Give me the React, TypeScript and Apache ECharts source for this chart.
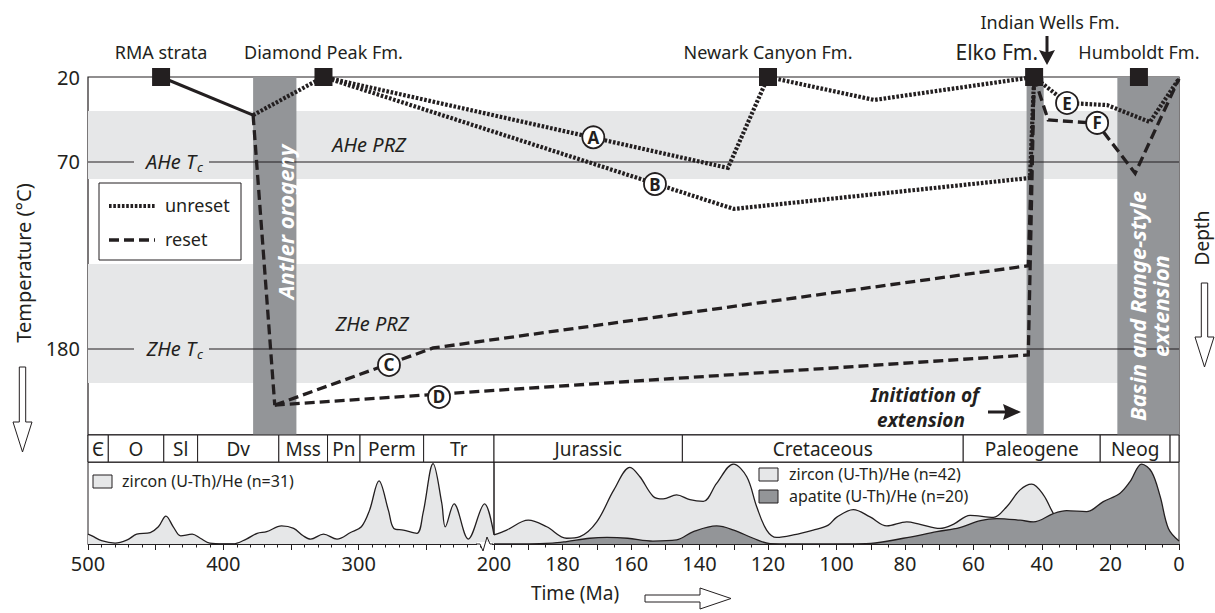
import React, { useEffect, useRef } from 'react';
import * as echarts from 'echarts';

// ---------------- data ----------------
const tempTickLabels = [20, 70, 180];
const closureTemps = [70, 180];
const closureNames = ['AHe', 'ZHe'];
const przBands: [number, number][] = [[40, 80], [130, 200]];
const przNames = ['AHe PRZ', 'ZHe PRZ'];
const eventBands: [number, number][] = [[378, 346], [44.5, 39.5], [18, 0]];

const periodNames = ['Є', 'O', 'Sl', 'Dv', 'Mss', 'Pn', 'Perm', 'Tr', 'Jurassic', 'Cretaceous', 'Paleogene', 'Neog', ''];
const periodBounds = [500, 485, 444, 419, 359, 323, 299, 252, 200, 145, 63, 23, 2.6, 0];

const unitNames = ['RMA strata', 'Diamond Peak Fm.', 'Newark Canyon Fm.', 'Elko Fm.', 'Humboldt Fm.'];
const unitAges = [446, 326, 120, 42.3, 11.7];
const unitTemps = [20, 20, 20, 20, 20];

const markerNames = ['A', 'B', 'C', 'D', 'E', 'F'];
const markerAges = [171, 153, 277.6, 240.6, 32.7, 23.9];
const markerTemps = [55.5, 83, 189.4, 208.2, 35.3, 47];

// time-temperature paths [Ma, °C]
const solidPath = [[446, 20], [378, 42.4]];
const unresetLead = [[378, 42.4], [326, 20]];
const pathA = [[326, 20], [131.7, 73.5], [120, 20], [89, 33.5], [42.3, 20]];
const pathB = [[326, 20], [130, 97.6], [43.5, 79.4], [42.3, 20]];
const pathE = [[42.3, 20], [32.7, 35.3], [21, 36.5], [8.5, 46.5], [0, 21]];
const resetLead = [[378, 42.4], [362, 213]];
const pathC = [[362, 213], [245, 179.4], [44, 131], [42.3, 20]];
const pathD = [[362, 213], [44, 183.5], [42.3, 20]];
const pathF = [[42.3, 20], [38.2, 45.3], [24, 47.2], [12.8, 76.6], [0, 21]];

// age distributions [Ma, relative probability]
const zirconOld = [
  [500, 12], [497, 10], [490, 4], [480, 1], [471, 5], [464, 12], [454, 14], [448, 21], [442.4, 34], [437, 21],
  [431.5, 10], [423, 12], [417, 7], [410, 1], [400, 0], [393, 0], [383, 6], [375, 13], [368, 15], [357, 22],
  [348, 19], [341, 10], [335.5, 6], [326, 12], [316, 6], [306, 14], [298, 21], [292, 41], [285, 77], [278, 41],
  [274, 19], [267, 17], [257, 13], [252.4, 38], [245, 98], [238.6, 50], [236, 21], [229.5, 49], [219, 6],
  [207, 49], [200, 11],
];
const zirconYoung = [
  [200, 11], [196.3, 17], [190, 29], [184.6, 21], [178.8, 7], [174.9, 9], [170, 27], [165, 66], [160.3, 93.5],
  [157.4, 82], [153.5, 58], [150.6, 55], [146.7, 60], [142.8, 54], [138.9, 52], [135, 74], [130.1, 97.5],
  [126.2, 82], [123.3, 45.5], [120.4, 17], [117.5, 8], [112.6, 11], [106.8, 17], [102.4, 23], [100, 32.5],
  [95.1, 42], [90.2, 33], [85.3, 22], [79.5, 27], [75.6, 24], [69.8, 19], [65.9, 24], [61, 35], [54.2, 32.5],
  [50.3, 45.5], [46.4, 66], [43, 73], [39.6, 60], [36.7, 37.4], [33, 15], [28, 4], [20, 0], [0, 0],
];
const apatiteYoung = [
  [200, 0], [190, 0], [183, 1], [178.8, 3], [172, 7], [167, 8], [161, 7], [153.6, 3.6], [146.7, 5], [141.8, 15],
  [135, 22], [130, 17], [124.3, 7], [119.4, 0.5], [105, 0], [90, 0.8], [80.5, 7], [70.7, 15], [64, 20], [58, 28.5],
  [53.2, 31], [46.4, 29], [42.5, 27], [36.7, 37], [32.8, 40.6], [27, 39.4], [22.1, 51.6], [17.2, 62], [14.3, 76],
  [10.9, 97.5], [8, 88], [5.5, 58], [3.1, 19], [0, 3.6],
];

// ---------------- layout ----------------
const INK = '#231f20';
const LIGHT = '#e6e7e8';
const DARK = '#939598';
const FONT = 'Noto Sans';
const L = 88, R = 1179, BRK = 494, TOP = 77, MAIN_B = 435, PER_B = 462, DEN_B = 544;
const K = ((BRK - L) / 300) / ((R - BRK) / 200);
const u = (ma: number) => (ma <= 200 ? ma : 200 + (ma - 200) * K);
const U_MAX = u(500);
const T_MAX = 230.6;
const yPix = (t: number) => TOP + ((t - 20) / (T_MAX - 20)) * (MAIN_B - TOP);
const DOT = [2.6, 1.7];
const DASH = [10, 5];

const txt = (x: number, y: number, text: string, o: any = {}) => ({
  type: 'text', x, y, z: o.z ?? 20, rotation: o.rot ?? 0, silent: true,
  style: {
    text, fill: o.fill ?? INK, fontSize: o.size ?? 18, fontFamily: FONT,
    fontStyle: o.italic ? 'italic' : 'normal', fontWeight: o.bold ? 'bold' : 'normal',
    align: o.align ?? 'center', textAlign: o.align ?? 'center',
    verticalAlign: 'middle', textVerticalAlign: 'middle',
    lineHeight: o.lh ?? undefined,
  },
});
const hollowDown = (cx: number, y0: number, y1: number, headY: number) => ({
  type: 'polygon', z: 20, silent: true,
  shape: { points: [[cx - 3.2, y0], [cx + 3.2, y0], [cx + 3.2, headY], [cx + 9.5, headY], [cx, y1], [cx - 9.5, headY], [cx - 3.2, headY]] },
  style: { fill: '#fff', stroke: INK, lineWidth: 1 },
});

function buildOption(): any {
  const pathSeries = (pts: number[][], kind: string, z = 5) => ({
    type: 'line', xAxisIndex: 0, yAxisIndex: 0, z, silent: true, symbol: 'none',
    data: pts.map(([a, t]) => [u(a), t]),
    lineStyle: {
      color: INK, cap: 'butt', join: 'miter', opacity: 1,
      width: kind === 'dotted' ? 4.2 : kind === 'dashed' ? 3.3 : 3,
      type: kind === 'dotted' ? DOT : kind === 'dashed' ? DASH : 'solid',
    },
  });

  const graphics: any[] = [
    txt(23, 263, 'Temperature (°C)', { size: 20, rot: Math.PI / 2 }),
    hollowDown(22.5, 367, 452, 422),
    txt(1202, 238, 'Depth', { size: 19, rot: Math.PI / 2 }),
    hollowDown(1204.5, 283, 367, 337),
    txt(575, 593, 'Time (Ma)', { size: 19 }),
    {
      type: 'polygon', z: 20, silent: true,
      shape: { points: [[645, 595], [700, 595], [700, 588], [731, 598.5], [700, 609], [700, 602], [645, 602]] },
      style: { fill: '#fff', stroke: INK, lineWidth: 1 },
    },
    txt(369, 144, przNames[0], { italic: true, z: 4, size: 20 }),
    txt(372, 323, przNames[1], { italic: true, z: 4, size: 20 }),
    // legend
    { type: 'rect', z: 20, silent: true, shape: { x: 99, y: 183, width: 142, height: 77 }, style: { fill: '#fff', stroke: INK, lineWidth: 1 } },
    { type: 'line', z: 21, silent: true, shape: { x1: 109, y1: 206, x2: 156, y2: 206 }, style: { stroke: INK, lineWidth: 4.2, lineDash: DOT } },
    { type: 'line', z: 21, silent: true, shape: { x1: 109, y1: 240, x2: 155, y2: 240 }, style: { stroke: INK, lineWidth: 3.3, lineDash: DASH } },
    txt(165, 205, 'unreset', { align: 'left', z: 21 }),
    txt(165, 239, 'reset', { align: 'left', z: 21 }),
    // initiation of extension
    txt(925, 395, 'Initiation of', { bold: true, italic: true, size: 19 }),
    txt(921, 420, 'extension', { bold: true, italic: true, size: 19 }),
    {
      type: 'polygon', z: 20, silent: true,
      shape: { points: [[988, 410.5], [1005, 410.5], [1003, 404], [1021, 412], [1003, 420], [1005, 413.5], [988, 413.5]] },
      style: { fill: INK },
    },
    // Indian Wells
    txt(1050, 22, 'Indian Wells Fm.', { size: 18 }),
    {
      type: 'polygon', z: 20, silent: true,
      shape: { points: [[1045.5, 36], [1048.5, 36], [1048.5, 52], [1055, 50], [1047, 65], [1039, 50], [1045.5, 52]] },
      style: { fill: INK },
    },
    // band labels
    txt(285, 222, 'Antler orogeny', { bold: true, italic: true, fill: '#fff', rot: Math.PI / 2, z: 4, size: 22 }),
    txt(1137, 306, 'Basin and Range-style', { bold: true, italic: true, fill: '#fff', rot: Math.PI / 2, z: 4, size: 22 }),
    txt(1160, 306, 'extension', { bold: true, italic: true, fill: '#fff', rot: Math.PI / 2, z: 4, size: 22 }),
    // density legends
    { type: 'rect', z: 20, silent: true, shape: { x: 93, y: 475, width: 19, height: 13 }, style: { fill: LIGHT, stroke: INK, lineWidth: 1 } },
    txt(122, 481, 'zircon (U-Th)/He (n=31)', { align: 'left', size: 16 }),
    { type: 'rect', z: 20, silent: true, shape: { x: 759, y: 468, width: 19, height: 13 }, style: { fill: LIGHT, stroke: INK, lineWidth: 1 } },
    txt(789, 474, 'zircon (U-Th)/He (n=42)', { align: 'left', size: 16 }),
    { type: 'rect', z: 20, silent: true, shape: { x: 759, y: 490, width: 19, height: 13 }, style: { fill: DARK, stroke: INK, lineWidth: 1 } },
    txt(789, 496, 'apatite (U-Th)/He (n=20)', { align: 'left', size: 16 }),
    // axis break
    { type: 'rect', z: 30, silent: true, shape: { x: 477, y: 542, width: 15, height: 4 }, style: { fill: '#fff' } },
    { type: 'polyline', z: 31, silent: true, shape: { points: [[476, 544], [480, 544], [483, 551], [487, 537], [490, 544], [493, 544]] }, style: { stroke: INK, lineWidth: 1, fill: 'none' } },
  ];

  closureTemps.forEach((t, i) => {
    const y = yPix(t);
    graphics.push({ type: 'rect', z: 4, silent: true, shape: { x: 134, y: y - 4, width: 75, height: 8 }, style: { fill: LIGHT } });
    graphics.push(txt(196, y, closureNames[i] + ' T', { italic: true, align: 'right', z: 5, size: 20 }));
    graphics.push(txt(197, y + 5, 'c', { italic: true, align: 'left', size: 13, z: 5 }));
  });

  const series: any[] = [
    {
      type: 'line', xAxisIndex: 0, yAxisIndex: 0, z: 1, data: [], silent: true,
      markArea: { silent: true, itemStyle: { color: LIGHT, opacity: 1 }, data: przBands.map(([a, b]) => [{ yAxis: a }, { yAxis: b }]) },
    },
    ...closureTemps.map((t) => ({
      type: 'line', xAxisIndex: 0, yAxisIndex: 0, z: 2, silent: true, symbol: 'none',
      data: [[0, t], [U_MAX, t]], lineStyle: { color: INK, width: 1.1 },
    })),
    {
      type: 'line', xAxisIndex: 0, yAxisIndex: 0, z: 3, data: [], silent: true,
      markArea: { silent: true, itemStyle: { color: DARK, opacity: 1 }, data: eventBands.map(([a, b]) => [{ xAxis: u(a) }, { xAxis: u(b) }]) },
    },
    pathSeries(solidPath, 'solid'),
    pathSeries(unresetLead, 'dotted'),
    pathSeries(pathA, 'dotted'),
    pathSeries(pathB, 'dotted'),
    pathSeries(pathE, 'dotted'),
    pathSeries(resetLead, 'dashed'),
    pathSeries(pathC, 'dashed'),
    pathSeries(pathD, 'dashed'),
    pathSeries(pathF, 'dashed'),
    {
      type: 'scatter', xAxisIndex: 0, yAxisIndex: 0, z: 6, silent: true,
      symbol: 'circle', symbolSize: 22,
      itemStyle: { color: '#fff', borderColor: INK, borderWidth: 1.8, opacity: 1 },
      data: markerNames.map((n, i) => ({ name: n, value: [u(markerAges[i]), markerTemps[i]] })),
      label: { show: true, position: 'inside', formatter: '{b}', color: INK, fontSize: 17, fontFamily: FONT, fontWeight: 'bold' },
    },
    {
      type: 'scatter', xAxisIndex: 0, yAxisIndex: 0, z: 7, silent: true,
      symbol: 'rect', symbolSize: 18, itemStyle: { color: INK, opacity: 1 },
      data: unitNames.map((n, i) => ({
        name: n, value: [u(unitAges[i]), unitTemps[i]],
        label: n === 'Elko Fm.'
          ? { show: true, position: 'inside', align: 'right', offset: [4, -25], fontSize: 21, color: INK, fontFamily: FONT }
          : { show: true, position: 'inside', offset: [0, -25], fontSize: 18, color: INK, fontFamily: FONT },
      })),
      label: { show: true, formatter: '{b}' },
    },
    {
      type: 'custom', xAxisIndex: 1, yAxisIndex: 1, silent: true, encode: { x: [0, 1] },
      data: periodNames.map((_, i) => [u(periodBounds[i]), u(periodBounds[i + 1])]),
      renderItem: (params: any, api: any) => {
        const a = api.coord([api.value(0), 1]);
        const b = api.coord([api.value(1), 0]);
        const x0 = Math.min(a[0], b[0]), x1 = Math.max(a[0], b[0]);
        const y0 = Math.min(a[1], b[1]), y1 = Math.max(a[1], b[1]);
        return {
          type: 'group',
          children: [
            { type: 'rect', shape: { x: x0, y: y0, width: x1 - x0, height: y1 - y0 }, style: { fill: '#fff', stroke: INK, lineWidth: 1 } },
            {
              type: 'text', x: (x0 + x1) / 2, y: (y0 + y1) / 2,
              style: { text: periodNames[params.dataIndex], fill: INK, fontSize: 19, fontFamily: FONT, align: 'center', verticalAlign: 'middle', textAlign: 'center', textVerticalAlign: 'middle' },
            },
          ],
        };
      },
    },
    {
      type: 'line', xAxisIndex: 2, yAxisIndex: 2, z: 2, silent: true, symbol: 'none', smooth: 0.35,
      data: zirconOld, itemStyle: { color: LIGHT }, lineStyle: { color: INK, width: 1.3 }, areaStyle: { color: LIGHT, opacity: 1 },
    },
    {
      type: 'line', xAxisIndex: 3, yAxisIndex: 3, z: 2, silent: true, symbol: 'none', smooth: 0.35,
      data: zirconYoung, itemStyle: { color: LIGHT }, lineStyle: { color: INK, width: 1.3 }, areaStyle: { color: LIGHT, opacity: 1 },
    },
    {
      type: 'line', xAxisIndex: 3, yAxisIndex: 3, z: 3, silent: true, symbol: 'none', smooth: 0.35,
      data: apatiteYoung, itemStyle: { color: DARK }, lineStyle: { color: INK, width: 1.3 }, areaStyle: { color: DARK, opacity: 1 },
    },
  ];

  const axisLabelStyle = { color: INK, fontSize: 20, fontFamily: FONT, margin: 9 };
  const W = R - L;

  return {
    animation: false,
    textStyle: { fontFamily: FONT },
    grid: [
      { left: L, top: TOP, width: W, height: MAIN_B - TOP, show: true, borderColor: INK, borderWidth: 1.2, backgroundColor: 'transparent' },
      { left: L, top: MAIN_B, width: W, height: PER_B - MAIN_B, show: true, borderColor: INK, borderWidth: 1, backgroundColor: 'transparent' },
      { left: L, top: PER_B, width: BRK - L, height: DEN_B - PER_B, show: true, borderColor: INK, borderWidth: 1, backgroundColor: 'transparent' },
      { left: BRK, top: PER_B, width: R - BRK, height: DEN_B - PER_B, show: true, borderColor: INK, borderWidth: 1, backgroundColor: 'transparent' },
    ],
    xAxis: [
      { gridIndex: 0, type: 'value', min: 0, max: U_MAX, inverse: true, show: false },
      { gridIndex: 1, type: 'value', min: 0, max: U_MAX, inverse: true, show: false },
      {
        gridIndex: 2, type: 'value', min: 200, max: 500, interval: 50, inverse: true,
        axisLine: { show: true, lineStyle: { color: INK, width: 1 } },
        axisTick: { show: true, inside: false, length: 6, lineStyle: { color: INK } },
        minorTick: { show: true, splitNumber: 5, length: 3.5, lineStyle: { color: INK } },
        splitLine: { show: false }, minorSplitLine: { show: false },
        axisLabel: { ...axisLabelStyle, formatter: (v: number) => (v % 100 === 0 && v !== 200 ? String(v) : '') },
      },
      {
        gridIndex: 3, type: 'value', min: 0, max: 200, interval: 10, inverse: true,
        axisLine: { show: true, lineStyle: { color: INK, width: 1 } },
        axisTick: { show: true, inside: false, length: 6, lineStyle: { color: INK } },
        minorTick: { show: true, splitNumber: 2, length: 3.5, lineStyle: { color: INK } },
        splitLine: { show: false }, minorSplitLine: { show: false },
        axisLabel: { ...axisLabelStyle, formatter: (v: number) => (v % 20 === 0 ? String(v) : '') },
      },
    ],
    yAxis: [
      {
        gridIndex: 0, type: 'value', min: 20, max: T_MAX, interval: 10, inverse: true,
        axisLine: { show: false }, axisTick: { show: false }, splitLine: { show: false },
        axisLabel: { color: INK, fontSize: 20, fontFamily: FONT, margin: 8, formatter: (v: number) => (tempTickLabels.includes(v) ? String(v) : '') },
      },
      { gridIndex: 1, type: 'value', min: 0, max: 1, show: false },
      { gridIndex: 2, type: 'value', min: 0, max: 100, show: false },
      { gridIndex: 3, type: 'value', min: 0, max: 100, show: false },
    ],
    graphic: { elements: graphics },
    series,
  };
}

export default function App() {
  const ref = useRef<HTMLDivElement>(null);
  useEffect(() => {
    document.body.style.margin = '0';
    const chart = echarts.init(ref.current as HTMLDivElement, undefined, { renderer: 'svg' });
    chart.setOption(buildOption());
    return () => chart.dispose();
  }, []);
  return <div ref={ref} style={{ width: 1215, height: 613 }} />;
}
